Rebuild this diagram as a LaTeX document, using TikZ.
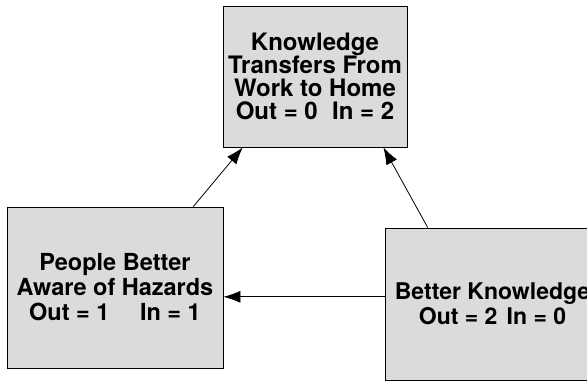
\documentclass[tikz,border=0pt]{standalone}
\usepackage{fontspec}
\setmainfont{TeX Gyre Heros}
\usepackage{tikz}
\usetikzlibrary{arrows.meta, positioning, calc}

\begin{document}
\begin{tikzpicture}[x=1pt, y=-1pt, >={Latex[length=17pt,width=12pt]}]
        \tikzstyle{factor} = [rectangle, draw=black, line width=0.8pt, fill=black!14, align=center, inner sep=0pt]
        \tikzstyle{link} = [->, line width=0.8pt, draw=black]

        \useasboundingbox (0,0) rectangle (587,389);

        \node (home) [factor, minimum width=184pt, minimum height=141pt, font=\fontsize{24}{23}\selectfont\bfseries] at (315,76.5) {Knowledge\\Transfers From\\Work to Home\\Out = 0\hspace{0.6em}In = 2};
        \node (aware) [factor, minimum width=216pt, minimum height=161pt, font=\fontsize{23.5}{25}\selectfont\bfseries] at (115,287.5) {People Better\\Aware of Hazards\\Out = 1\hspace{1.3em}In = 1};
        \node (know) [factor, minimum width=215pt, minimum height=152pt, font=\fontsize{23}{25}\selectfont\bfseries] at (492.5,304) {Better Knowledge\\Out = 2\hspace{0.4em}In = 0};

        % Influence arrows
        \draw [link] ($(aware.north west)!0.861!(aware.north east)$) -- ($(home.south west)!0.109!(home.south east)$);
        \draw [link] ($(know.north west)!0.2!(know.north east)$) -- ($(home.south west)!0.87!(home.south east)$);
        \coordinate (h) at ($(know.north west)!0.453!(know.south west)$);
        \draw [link] (h) -- (h -| aware.east);
    \end{tikzpicture}
\end{document}
